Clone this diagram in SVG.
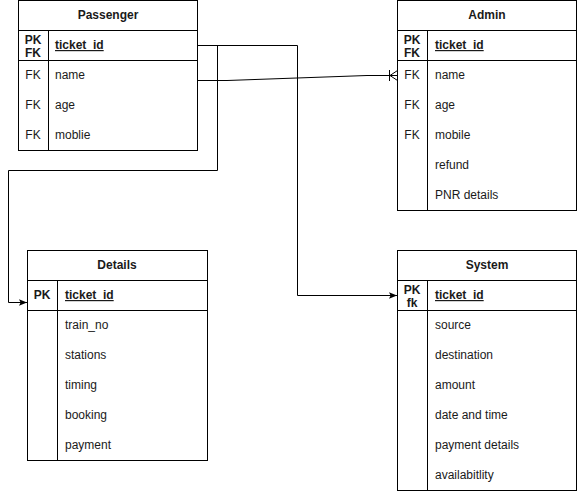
<svg xmlns="http://www.w3.org/2000/svg" width="578" height="491" viewBox="0 0 578 491">
<style>
.box{fill:#fff;stroke:#000;stroke-width:1}
.ln{stroke:#000;stroke-width:1;fill:none}
text{font-family:"Liberation Sans",Arial,sans-serif;font-size:12px;fill:#1a1a1a}
.h{font-weight:bold;text-anchor:middle}
.k{text-anchor:middle}
.kb{text-anchor:middle;font-weight:bold}
.pk{font-weight:bold;text-decoration:underline}
.c{stroke:#000;stroke-width:1;fill:none}
</style>
<defs>
<marker id="arr" viewBox="0 0 10 10" refX="10" refY="5" markerWidth="8" markerHeight="8" markerUnits="userSpaceOnUse" orient="auto">
<path d="M0,1 L10,5 L0,9 L2,5 Z" fill="#000"/>
</marker>
</defs>
<rect width="578" height="491" fill="#fff"/>
<g id="passenger">
<rect class="box" x="18.5" y="0.5" width="179" height="150"/>
<line class="ln" x1="18.5" y1="30.5" x2="197.5" y2="30.5"/>
<line class="ln" x1="18.5" y1="60.5" x2="197.5" y2="60.5"/>
<line class="ln" x1="48.5" y1="30.5" x2="48.5" y2="150.5"/>
<text class="h" x="108" y="19">Passenger</text>
<text class="kb" x="33" y="44">PK</text>
<text class="kb" x="33" y="57">FK</text>
<text class="pk" x="55" y="49">ticket_id</text>
<text class="k" x="33" y="79">FK</text><text x="55" y="79">name</text>
<text class="k" x="33" y="109">FK</text><text x="55" y="109">age</text>
<text class="k" x="33" y="139">FK</text><text x="55" y="139">moblie</text>
</g>
<g id="admin">
<rect class="box" x="397.5" y="0.5" width="179" height="210"/>
<line class="ln" x1="397.5" y1="30.5" x2="576.5" y2="30.5"/>
<line class="ln" x1="397.5" y1="60.5" x2="576.5" y2="60.5"/>
<line class="ln" x1="427.5" y1="30.5" x2="427.5" y2="210.5"/>
<text class="h" x="487" y="19">Admin</text>
<text class="kb" x="412" y="44">PK</text>
<text class="kb" x="412" y="57">FK</text>
<text class="pk" x="435" y="49">ticket_id</text>
<text class="k" x="412" y="79">FK</text><text x="435" y="79">name</text>
<text class="k" x="412" y="109">FK</text><text x="435" y="109">age</text>
<text class="k" x="412" y="139">FK</text><text x="435" y="139">mobile</text>
<text x="435" y="169">refund</text>
<text x="435" y="199">PNR details</text>
</g>
<g id="details">
<rect class="box" x="27.5" y="250.5" width="180" height="210"/>
<line class="ln" x1="27.5" y1="280.5" x2="207.5" y2="280.5"/>
<line class="ln" x1="27.5" y1="310.5" x2="207.5" y2="310.5"/>
<line class="ln" x1="57.5" y1="280.5" x2="57.5" y2="460.5"/>
<text class="h" x="117" y="269">Details</text>
<text class="kb" x="42" y="299">PK</text>
<text class="pk" x="65" y="299">ticket_id</text>
<text x="65" y="329">train_no</text>
<text x="65" y="359">stations</text>
<text x="65" y="389">timing</text>
<text x="65" y="419">booking</text>
<text x="65" y="449">payment</text>
</g>
<g id="system">
<rect class="box" x="397.5" y="250.5" width="179" height="240"/>
<line class="ln" x1="397.5" y1="280.5" x2="576.5" y2="280.5"/>
<line class="ln" x1="397.5" y1="310.5" x2="576.5" y2="310.5"/>
<line class="ln" x1="427.5" y1="280.5" x2="427.5" y2="490.5"/>
<text class="h" x="487" y="269">System</text>
<text class="kb" x="412" y="294">PK</text>
<text class="kb" x="412" y="307">fk</text>
<text class="pk" x="435" y="299">ticket_id</text>
<text x="435" y="329">source</text>
<text x="435" y="359">destination</text>
<text x="435" y="389">amount</text>
<text x="435" y="419">date and time</text>
<text x="435" y="449">payment details</text>
<text x="435" y="479">availabitlity</text>
</g>
<g id="connectors">
<path class="c" d="M197.5,45.5 H297.5 V295.5 H397" marker-end="url(#arr)"/>
<path class="c" d="M197.5,45.5 H217.5 V170.5 H8.5 V302.5 H27" marker-end="url(#arr)"/>
<path class="c" d="M197.5,80.5 H227 L367,75.5 H397.5"/>
<path class="c" d="M389.5,70 V81 M390,75.5 L397.5,70.5 M390,75.5 L397.5,80.5"/>
</g>
</svg>
